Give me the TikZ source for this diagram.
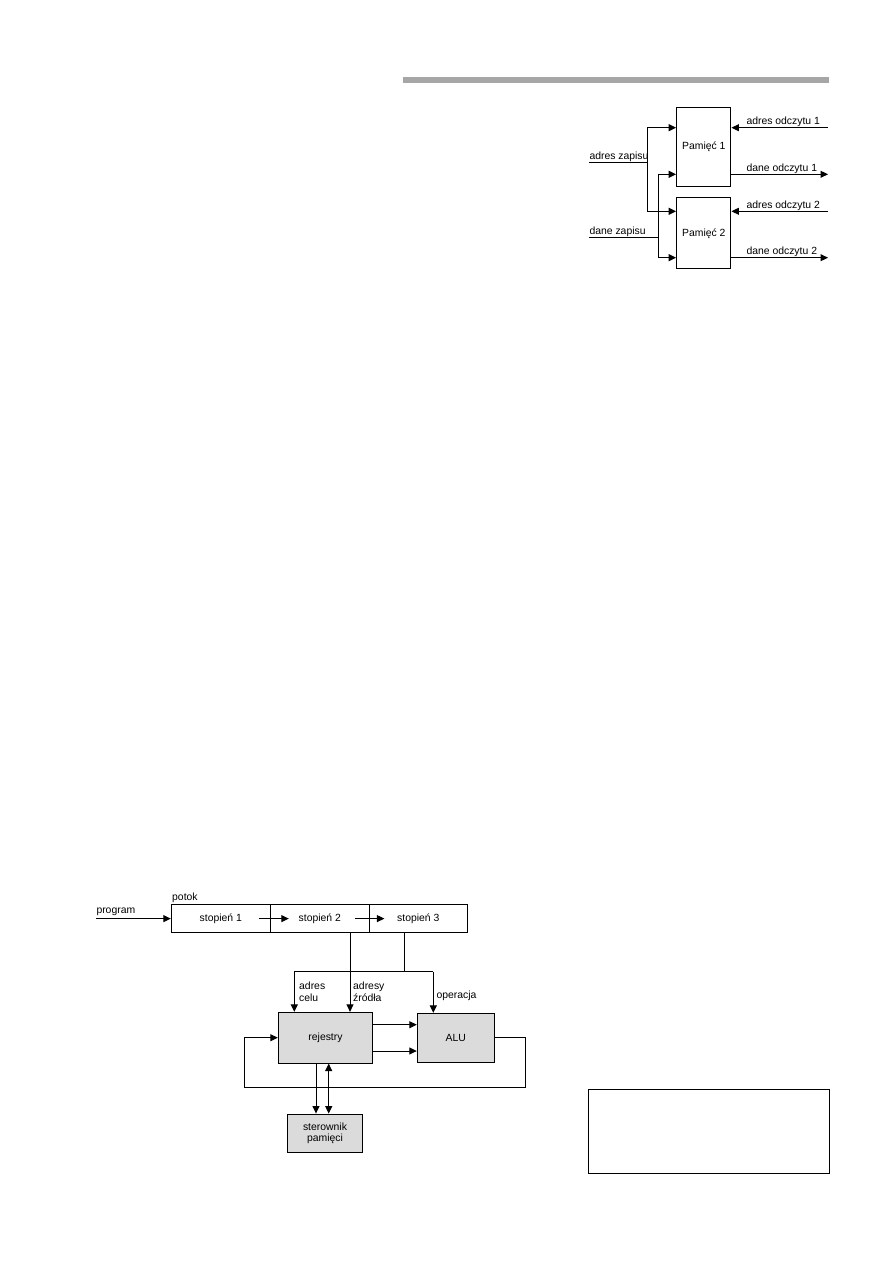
\documentclass[tikz,border=0pt]{standalone}
\usepackage{fontspec}
\setmainfont{Liberation Sans}
\usetikzlibrary{arrows.meta}
\begin{document}
\begin{tikzpicture}[x=1pt,y=-1pt,
  line width=1pt,
  >={Triangle[length=7.5pt,width=7pt]},
  every node/.style={font=\fontsize{10.4}{11.6}\selectfont, inner sep=0pt},
  lbl/.style={anchor=west, align=left},
  regbox/.style={draw, fill=black!14}
]
\fill[white] (0,0) rectangle (893,1263);
\useasboundingbox (0,0) rectangle (893,1263);

% grey bar
\fill[black!35] (403,77) rectangle (829,83);

% ---------- top diagram ----------
\node[draw, minimum width=54.3pt, minimum height=78.6pt] (p1) at (703.8,147) {Pamięć 1};
\node[draw, minimum width=54.3pt, minimum height=71.3pt] (p2) at (703.8,233.3) {Pamięć 2};

\coordinate (az) at (589,162.3);
\coordinate (ja) at (647.3,162.3);
\coordinate (dz) at (589,237.3);
\coordinate (jd) at (658.3,237.3);
\node[lbl] (laz) at (589,157) {adres zapisu};
\node[lbl] (ldz) at (589,232) {dane zapisu};

\draw (az) -- (ja);
\draw[->] (ja) |- ([yshift=19.3pt]p1.west);
\draw[->] (ja) |- ([yshift=22pt]p2.west);
\draw (dz) -- (jd);
\draw[->] (jd) |- ([yshift=-27.3pt]p1.west);
\draw[->] (jd) |- ([yshift=-24.4pt]p2.west);

\coordinate (ao1) at (828,127.7);
\coordinate (do1) at (828,174.3);
\coordinate (ao2) at (828,211.3);
\coordinate (do2) at (828,257.7);
\draw[->] (ao1) -- (p1.east |- ao1);
\draw[->] (p1.east |- do1) -- (do1);
\draw[->] (ao2) -- (p2.east |- ao2);
\draw[->] (p2.east |- do2) -- (do2);
\node[lbl] (lao1) at (746,122) {adres odczytu 1};
\node[lbl] (ldo1) at (746,169) {dane odczytu 1};
\node[lbl] (lao2) at (746,205.5) {adres odczytu 2};
\node[lbl] (ldo2) at (746,252) {dane odczytu 2};

% ---------- bottom diagram ----------
\node[draw, minimum width=99pt, minimum height=28.7pt] (s1) at (220.8,918.6) {stopień 1};
\node[draw, minimum width=99pt, minimum height=28.7pt] (s2) at (319.8,918.6) {stopień 2};
\node[draw, minimum width=98pt, minimum height=28.7pt] (s3) at (418.3,918.6) {stopień 3};
\node[lbl] (lpotok) at (171.7,897.3) {potok};
\node[lbl] (lprog) at (96,911.7) {program};
\coordinate (prg) at (96,918.6);
\draw[->] (prg) -- (s1.west);
\draw[->] ([xshift=-11pt]s2.west) -- ([xshift=19pt]s2.west);
\draw[->] ([xshift=-14pt]s3.west) -- ([xshift=15.6pt]s3.west);

\node[regbox, minimum width=94.4pt, minimum height=50.7pt] (rej) at (325.5,1037.7) {rejestry};
\node[regbox, minimum width=77pt, minimum height=48.7pt] (alu) at (455.8,1037.7) {ALU};
\node[regbox, minimum width=75.4pt, minimum height=38.3pt, align=center] (ster) at (325,1133.2) {sterownik\\pamięci};

\draw[->] ([xshift=30.2pt]s2.south) -- ([xshift=30.2pt]s2.south |- rej.north);
\coordinate (jb) at (404.3,971.7);
\coordinate (jl) at (294.3,971.7);
\coordinate (jr) at (433.3,971.7);
\draw ([xshift=-14pt]s3.south) -- (jb);
\draw (jl) -- (jr);
\draw[->] (jl) -- (jl |- rej.north);
\draw[->] (jr) -- (jr |- alu.north);

\node[lbl] (lac) at (298.7,991.5) {adres\\celu};
\node[lbl] (laz2) at (352.7,991.5) {adresy\\źródła};
\node[lbl] (lop) at (436,996) {operacja};

\draw[->] ([yshift=13pt]rej.east) -- ([yshift=13pt]rej.east -| alu.west);
\draw[->] ([yshift=-13.3pt]rej.east) -- ([yshift=-13.3pt]rej.east -| alu.west);

\coordinate (lr) at (525.3,1087);
\coordinate (ll) at (244.3,1087);
\draw[->] (alu.east) -| (lr) -- (ll) |- (rej.west);

\draw[->] ([xshift=-9.5pt]rej.south) -- ([xshift=-9.5pt]rej.south |- ster.north);
\draw[<->] ([xshift=3.2pt]rej.south) -- ([xshift=3.2pt]rej.south |- ster.north);

% ---------- empty frame ----------
\node[draw, line width=1.1pt, minimum width=241.4pt, minimum height=83.7pt] (frame) at (709,1131.2) {};
\end{tikzpicture}
\end{document}
